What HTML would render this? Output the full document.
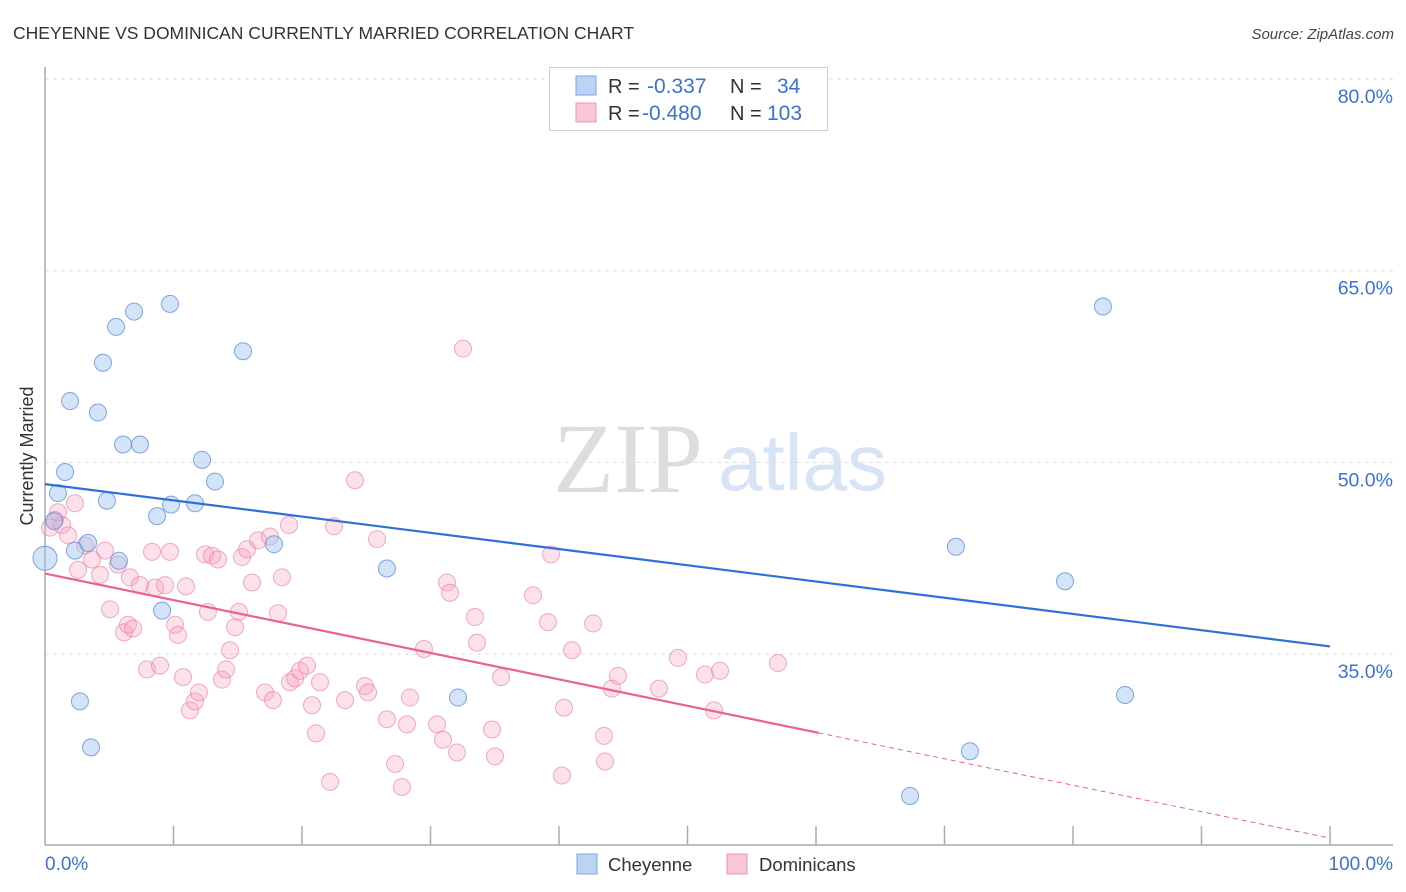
<!DOCTYPE html>
<html><head><meta charset="utf-8"><style>
body{margin:0;background:#fff;font-family:"Liberation Sans",sans-serif;}
svg{display:block}
</style></head><body>
<svg id="chart" width="1406" height="892" xmlns="http://www.w3.org/2000/svg">
<text x="13" y="39" font-size="17.5" fill="#333" font-family="Liberation Sans, sans-serif">CHEYENNE VS DOMINICAN CURRENTLY MARRIED CORRELATION CHART</text>
<text x="1394" y="39" font-size="15" fill="#444" font-style="italic" text-anchor="end">Source: ZipAtlas.com</text>
<text x="553" y="492" font-size="100" fill="#ddd" font-family="Liberation Serif, serif">ZIP</text>
<text x="718" y="490" font-size="80" fill="#d6e4f5">atlas</text>
<g id="grid"></g>
<g id="axes"></g>
<g id="marks"></g>
<text transform="translate(33,456) rotate(-90)" font-size="18" fill="#333" text-anchor="middle">Currently Married</text>
<g>
<rect x="549.5" y="67.5" width="278" height="63" fill="#fff" stroke="#ccc"/>
<rect x="576" y="76" width="20" height="19" fill="#bcd4f4" stroke="#7aa6e6"/>
<rect x="576" y="103" width="20" height="19" fill="#f9c6d6" stroke="#ec95b2"/>
<text x="608" y="93" font-size="20" fill="#333">R = </text>
<text x="647" y="93" font-size="21" fill="#3a72d6">-0.337</text>
<text x="730" y="93" font-size="20" fill="#333">N = </text>
<text x="777" y="93" font-size="21" fill="#3a72d6">34</text>
<text x="608" y="120" font-size="20" fill="#333">R = </text>
<text x="642" y="120" font-size="21" fill="#3a72d6">-0.480</text>
<text x="730" y="120" font-size="20" fill="#333">N = </text>
<text x="767" y="120" font-size="21" fill="#3a72d6">103</text>
</g>
<g>
<rect x="577" y="854" width="20" height="20" fill="#bcd4f4" stroke="#7aa6e6"/>
<text x="608" y="871" font-size="18.5" fill="#333">Cheyenne</text>
<rect x="727" y="854" width="20" height="20" fill="#f9c6d6" stroke="#ec95b2"/>
<text x="759" y="871" font-size="18.5" fill="#333">Dominicans</text>
</g>
</svg>
<script>
const yTicks=[80,65,50,35];
const yTickLabels=["80.0%","65.0%","50.0%","35.0%"];
const xTickLabels=["0.0%","100.0%"];
const cheyX=[1.56,1.01,1.95,4.12,4.51,5.53,6.93,9.73,6.07,7.39,4.82,8.72,9.81,11.67,12.22,13.23,15.41,2.33,5.76,17.82,9.11,2.72,3.58,26.61,32.14,82.33,70.89,79.38,84.05,71.98,67.32,0,0.7,3.35];
const cheyY=[49.25,47.6,54.8,53.9,57.8,60.6,61.8,62.4,51.4,51.4,47.0,45.8,46.7,46.8,50.2,48.5,58.7,43.1,42.3,43.6,38.4,31.3,27.7,41.7,31.6,62.2,43.4,40.7,31.8,27.4,23.9,42.5,45.4,43.7];
const domX=[0.78,0.39,1.32,1.79,2.33,1.01,3.11,3.66,2.57,4.28,4.67,5.06,5.68,6.15,6.46,6.85,6.61,7.39,7.94,8.33,8.56,8.95,9.34,9.73,10.12,10.35,10.74,10.97,11.28,11.67,11.98,12.45,12.68,13.0,13.46,13.77,14.09,14.4,14.79,15.1,15.33,15.72,16.11,16.58,17.12,17.51,17.74,18.13,18.44,18.99,19.07,19.46,19.84,20.39,20.78,21.09,21.4,22.18,22.49,23.35,24.12,24.9,25.14,25.84,26.61,27.24,27.78,28.17,28.4,29.49,30.51,30.97,31.28,31.52,32.06,32.53,33.46,33.62,34.79,35.02,35.49,37.98,39.14,39.38,40.23,40.39,41.01,42.65,43.5,43.58,44.12,44.59,47.78,49.26,51.36,52.06,52.53,57.04];
const domY=[45.5,44.9,45.1,44.3,46.8,46.1,43.5,42.4,41.6,41.2,43.1,38.5,42.0,36.7,37.3,37.0,41.0,40.4,33.8,43.0,40.2,34.1,40.4,43.0,37.3,36.5,33.2,40.3,30.6,31.3,32.0,42.8,38.3,42.7,42.4,33.0,33.8,35.3,37.1,38.3,42.6,43.2,40.6,43.9,32.0,44.2,31.4,38.2,41.0,45.1,32.8,33.1,33.7,34.1,31.0,28.8,32.8,25.0,45.0,31.4,48.6,32.5,32.0,44.0,29.9,26.4,24.6,29.5,31.6,35.4,29.5,28.3,40.6,39.8,27.3,58.9,37.9,35.9,29.1,27.0,33.2,39.6,37.5,42.8,25.5,30.8,35.3,37.4,28.6,26.6,32.3,33.3,32.3,34.7,33.4,30.6,33.7,34.3];
const cheyLine=[48.3,35.6];
const domLine=[41.3,20.6];
const domSolidEnd=60.2;

const NS="http://www.w3.org/2000/svg";
const X=v=>45+v*12.85;
const Y=v=>79+(80-v)*12.78;
function mk(tag,attrs,parent){const e=document.createElementNS(NS,tag);for(const k in attrs)e.setAttribute(k,attrs[k]);parent.appendChild(e);return e;}
const grid=document.getElementById('grid'),axes=document.getElementById('axes'),marks=document.getElementById('marks');
yTicks.forEach((t,i)=>{
  const l=mk('line',{x1:45,x2:1393,y1:Y(t),y2:Y(t),stroke:'#ddd','stroke-dasharray':'4,4'},grid);
  
  
  const tx=mk('text',{x:1393,y:Y(t)+24,'font-size':19.5,fill:'#3a72d6','text-anchor':'end'},grid);
  tx.textContent=yTickLabels[i];
  
  
});
const ax=mk('line',{x1:45,x2:45,y1:67,y2:845,stroke:'#aaa','stroke-width':1.5},axes);


const bx=mk('line',{x1:45,x2:1393,y1:845,y2:845,stroke:'#aaa','stroke-width':1.5},axes);


for(let i=1;i<=10;i++){
  const t=mk('line',{x1:X(i*10),x2:X(i*10),y1:826,y2:845,stroke:'#aaa','stroke-width':1.5},axes);
  
  
}
[[0,'start',45],[100,'end',1393]].forEach((d,i)=>{
  const t=mk('text',{x:d[2],y:870,'font-size':19,fill:'#3a72d6','text-anchor':d[1]},axes);
  t.textContent=xTickLabels[i];
  
  
});
domX.forEach((x,i)=>{
  const c=mk('circle',{cx:X(x),cy:Y(domY[i]),r:8.5,fill:'rgba(246,160,190,0.33)',stroke:'rgba(232,120,160,0.6)','stroke-width':1},marks);
  
  
});
cheyX.forEach((x,i)=>{
  const c=mk('circle',{cx:X(x),cy:Y(cheyY[i]),r:(x===0?12:8.5),fill:'rgba(160,195,240,0.45)',stroke:'rgba(80,130,215,0.7)','stroke-width':1},marks);
  
  
});
const bl=mk('line',{x1:X(0),y1:Y(cheyLine[0]),x2:X(100),y2:Y(cheyLine[1]),stroke:'#2f6fd8','stroke-width':2.2},marks);


const dAt=x=>domLine[0]+(domLine[1]-domLine[0])*x/100;
const pl=mk('line',{x1:X(0),y1:Y(dAt(0)),x2:X(domSolidEnd),y2:Y(dAt(domSolidEnd)),stroke:'#e9638f','stroke-width':2.2},marks);


const pd=mk('line',{x1:X(domSolidEnd),y1:Y(dAt(domSolidEnd)),x2:X(100),y2:Y(dAt(100)),stroke:'#e9638f','stroke-width':1,'stroke-dasharray':'5,4'},marks);


</script>
</body></html>
